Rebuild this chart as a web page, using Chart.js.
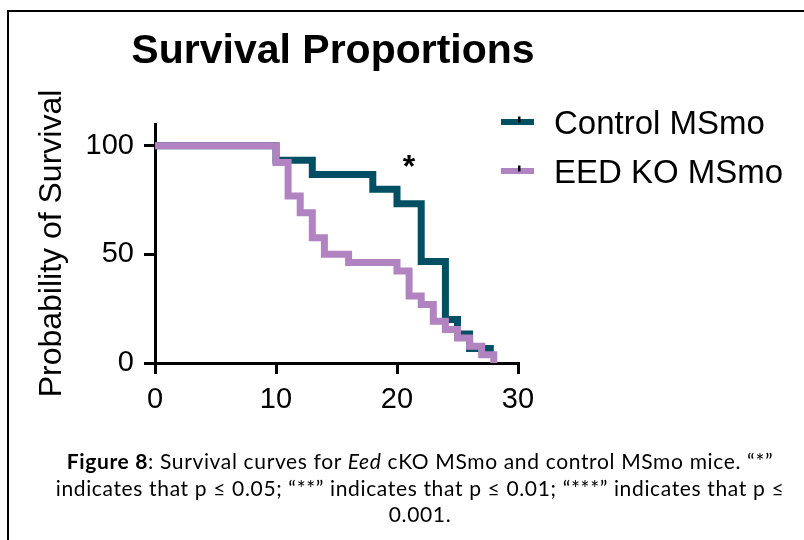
<!DOCTYPE html>
<html>
<head>
<meta charset="utf-8">
<script src="https://cdn.jsdelivr.net/npm/chart.js@4.4.1/dist/chart.umd.min.js"></script>
<style>
    html, body { margin: 0; padding: 0; background: #fff; }
    #wrap { position: relative; width: 804px; height: 540px; overflow: hidden; }
    #frame { position: absolute; left: 7px; top: 10px; right: -10px; bottom: -10px;
             border-left: 2px solid #000; border-top: 2px solid #000; }
    #survivalChart { position: absolute; left: 0; top: 0; }
    #caption { position: absolute; left: 20px; width: 800px; top: 448px;
               font-family: Lato, "Open Sans", sans-serif; font-size: 21px; line-height: 26.7px;
               letter-spacing: 0.65px; text-align: center; color: #000; }
</style>
</head>
<body>
<div id="wrap">
    <div id="frame"></div>
    <canvas id="survivalChart" width="804" height="540"></canvas>
    <div id="caption">
        <b>Figure 8</b>: Survival curves for <i>Eed</i> cKO MSmo and control MSmo mice. “*”<br>
        indicates that p ≤ 0.05; “**” indicates that p ≤ 0.01; “***” indicates that p ≤<br>
        0.001.
    </div>
</div>
<script>
    // Kaplan-Meier steps (days, % surviving)
    const controlDays = [0, 10, 13, 18, 20, 22, 24, 25, 26, 28];
    const controlSurvival = [100, 93.3, 86.7, 80, 73.3, 46.7, 20, 13.3, 6.7, 6.7];

    const eedDays = [0, 10, 11, 12, 13, 14, 16, 20, 21, 22, 23, 24, 25, 26, 27, 28];
    const eedSurvival = [100, 92.3, 76.9, 69.2, 57.7, 50, 46.2, 42.3, 30.8, 26.9, 19.2, 15.4, 11.5, 7.7, 3.8, 0];

    const xTicks = [0, 10, 20, 30];
    const yTicks = [0, 50, 100];

    // significance mark position (day, %)
    const starAt = { x: 21, y: 93 };

    const seriesNames = ['Control MSmo', 'EED KO MSmo'];
    const seriesColors = ['#004F63', '#B283C1'];

    function toPoints(xs, ys) {
        return xs.map((x, i) => ({ x: x, y: ys[i] }));
    }

    const FONT = '"Liberation Sans", Arial, sans-serif';

    // title, legend and the "*" mark
    const extras = {
        id: 'extras',
        afterDraw(chart) {
            const ctx = chart.ctx;
            ctx.save();

            ctx.fillStyle = '#000';
            ctx.font = 'bold 41px ' + FONT;
            ctx.textAlign = 'center';
            ctx.textBaseline = 'alphabetic';
            ctx.fillText('Survival Proportions', 333, 63);

            chart.data.datasets.forEach((ds, i) => {
                const y = 122 + i * 49;
                ctx.fillStyle = ds.borderColor;
                ctx.fillRect(501, y - 3, 33, 6);
                ctx.fillStyle = '#000';
                ctx.fillRect(518, y - 5.5, 2.5, 6);
                ctx.font = '33px ' + FONT;
                ctx.textAlign = 'left';
                ctx.fillText(ds.label, 554, y + 12);
            });

            const sx = chart.scales.x.getPixelForValue(starAt.x);
            const sy = chart.scales.y.getPixelForValue(starAt.y);
            ctx.font = 'bold 32px ' + FONT;
            ctx.textAlign = 'center';
            ctx.fillText('*', sx, sy + 16);

            ctx.restore();
        }
    };

    const ctx = document.getElementById('survivalChart').getContext('2d');
    new Chart(ctx, {
        type: 'line',
        data: {
            datasets: [{
                label: seriesNames[0],
                data: toPoints(controlDays, controlSurvival),
                borderColor: seriesColors[0],
                order: 1
            }, {
                label: seriesNames[1],
                data: toPoints(eedDays, eedSurvival),
                borderColor: seriesColors[1],
                order: 0
            }]
        },
        options: {
            responsive: false,
            animation: false,
            layout: {
                padding: { top: 124, right: 286, left: 0, bottom: 0 }
            },
            elements: {
                line: { stepped: 'before', borderWidth: 7, fill: false, borderJoinStyle: 'miter' },
                point: { radius: 0 }
            },
            scales: {
                x: {
                    type: 'linear',
                    min: 0,
                    max: 30,
                    afterFit: (s) => { s.height = 177; },
                    afterBuildTicks: (s) => { s.ticks = xTicks.map(v => ({ value: v })); },
                    border: { display: true, color: '#000', width: 3 },
                    grid: { drawOnChartArea: false, color: '#000', lineWidth: 3, tickLength: 11 },
                    ticks: { color: '#000', padding: 9, maxRotation: 0, font: { family: FONT, size: 29 } }
                },
                y: {
                    min: 0,
                    max: 110,
                    afterFit: (s) => { s.width = 155; },
                    afterBuildTicks: (s) => { s.ticks = yTicks.map(v => ({ value: v })); },
                    border: { display: true, color: '#000', width: 3 },
                    grid: { drawOnChartArea: false, color: '#000', lineWidth: 3, tickLength: 11 },
                    ticks: { color: '#000', padding: 10, font: { family: FONT, size: 29 } },
                    title: {
                        display: true,
                        text: 'Probability of Survival',
                        color: '#000',
                        padding: { top: 33, bottom: 0 },
                        font: { family: FONT, size: 32 }
                    }
                }
            },
            plugins: {
                legend: { display: false },
                tooltip: { enabled: false },
                title: { display: false }
            }
        },
        plugins: [extras]
    });
</script>
</body>
</html>
